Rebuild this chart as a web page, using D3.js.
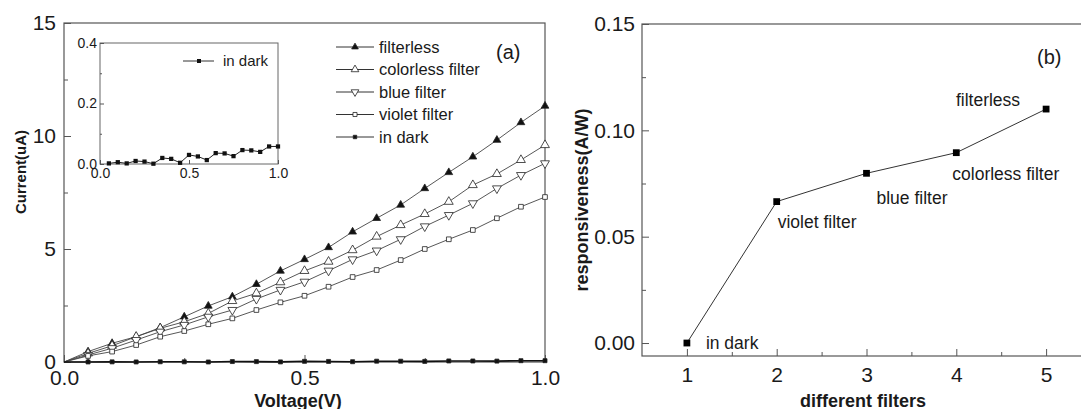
<!DOCTYPE html>
<html lang="en">
<head>
<meta charset="UTF-8">
<title>I-V curves and responsiveness</title>
<style>
  body { margin: 0; background: #fff; }
  svg { font-family: "Liberation Sans", Arial, sans-serif; }
  .axis path, .axis line { stroke: #555; }
  .axis text { fill: #1a1a1a; }
</style>
</head>
<body>
<svg width="1081" height="409" id="svg"></svg>
<script src="https://d3js.org/d3.v7.min.js"></script>
<script>
// ---- data: panel (a) ----
const voltage = [0, 0.05, 0.1, 0.15, 0.2, 0.25, 0.3, 0.35, 0.4, 0.45, 0.5,
                 0.55, 0.6, 0.65, 0.7, 0.75, 0.8, 0.85, 0.9, 0.95, 1.0]
const filterless = [0, 0.46, 0.83, 1.12, 1.52, 2.0, 2.48, 2.89, 3.44, 4.03, 4.54,
                    5.07, 5.76, 6.36, 6.95, 7.68, 8.39, 9.08, 9.82, 10.6, 11.33]
const colorless = [0, 0.38, 0.72, 1.12, 1.49, 1.78, 2.15, 2.7, 3.04, 3.53, 4.03,
                   4.44, 4.95, 5.55, 6.06, 6.55, 7.09, 7.83, 8.32, 8.94, 9.6]
const blueFilter = [0, 0.31, 0.61, 0.97, 1.34, 1.64, 2.0, 2.3, 2.79, 3.19, 3.55,
                    4.04, 4.54, 4.93, 5.43, 6.0, 6.5, 7.02, 7.68, 8.27, 8.79]
const violetFilter = [0, 0.27, 0.46, 0.75, 1.12, 1.37, 1.67, 1.93, 2.3, 2.64, 2.93,
                      3.33, 3.76, 4.07, 4.51, 5.0, 5.43, 5.84, 6.36, 6.87, 7.3]
const inDark = [0, 0.002, 0.006, 0.002, 0.01, 0.008, 0.001, 0.02, 0.017, 0.004, 0.03,
                0.025, 0.013, 0.036, 0.035, 0.026, 0.046, 0.045, 0.04, 0.058, 0.058]
const seriesNames = ["filterless", "colorless filter", "blue filter", "violet filter", "in dark"]
const currentTicks = [0, 5, 10, 15]
const voltageTicks = [0, 0.5, 1.0]
const insetTicks = [0, 0.2, 0.4]

// ---- data: panel (b) ----
const filterIndex = [1, 2, 3, 4, 5]
const filterLabels = ["in dark", "violet filter", "blue filter", "colorless filter", "filterless"]
const responsiveness = [0.0, 0.0665, 0.0798, 0.0895, 0.110]
const respTicks = [0, 0.05, 0.10, 0.15]

const svg = d3.select("svg#svg")

// ================= panel (a) =================
const a = { left: 64, right: 545, top: 23, bottom: 362 }
const xA = d3.scaleLinear().domain([0, 1]).range([a.left, a.right])
const yA = d3.scaleLinear().domain([0, 15]).range([a.bottom, a.top])

const gA = svg.append("g")

gA.append("rect").attr("x", a.left).attr("y", a.top)
  .attr("width", a.right - a.left).attr("height", a.bottom - a.top)
  .attr("fill", "none").attr("stroke", "#555").attr("stroke-width", 1.2)

gA.append("g").attr("class", "axis").attr("transform", `translate(${a.left},0)`)
  .call(d3.axisLeft(yA).tickValues(currentTicks).tickFormat(d3.format("d")).tickSize(-7).tickPadding(8))
  .call(g => g.select(".domain").remove())
  .call(g => g.selectAll("text").attr("font-size", 21))
gA.append("g").attr("class", "axis").attr("transform", `translate(${a.left},0)`)
  .call(d3.axisLeft(yA).tickValues([2.5, 7.5, 12.5]).tickFormat("").tickSize(-4))
  .call(g => g.select(".domain").remove())

gA.append("g").attr("class", "axis").attr("transform", `translate(0,${a.bottom})`)
  .call(d3.axisBottom(xA).tickValues(voltageTicks).tickFormat(d3.format(".1f")).tickSize(-7).tickPadding(8))
  .call(g => g.select(".domain").remove())
  .call(g => g.selectAll("text").attr("font-size", 21))
gA.append("g").attr("class", "axis").attr("transform", `translate(0,${a.bottom})`)
  .call(d3.axisBottom(xA).tickValues([0.25, 0.75]).tickFormat("").tickSize(-4))
  .call(g => g.select(".domain").remove())

gA.append("text").attr("transform", `translate(26,172) rotate(-90)`)
  .attr("text-anchor", "middle").attr("font-size", 15).attr("font-weight", "bold")
  .attr("fill", "#1a1a1a").text("Current(uA)")
gA.append("text").attr("x", 298).attr("y", 407)
  .attr("text-anchor", "middle").attr("font-size", 18).attr("font-weight", "bold")
  .attr("fill", "#1a1a1a").text("Voltage(V)")
gA.append("text").attr("x", 496).attr("y", 59).attr("font-size", 20)
  .attr("fill", "#1a1a1a").text("(a)")

// marker styles
const markerDefs = [
  { type: d3.symbolTriangle, size: 26, fill: "#111", rot: 0 },
  { type: d3.symbolTriangle, size: 34, fill: "#fff", rot: 0 },
  { type: d3.symbolTriangle, size: 34, fill: "#fff", rot: 180 },
  { type: d3.symbolSquare, size: 22, fill: "#fff", rot: 0 },
  { type: d3.symbolSquare, size: 16, fill: "#111", rot: 0 }
]
const seriesValues = [filterless, colorless, blueFilter, violetFilter, inDark]

const lineA = d3.line().x(d => xA(d[0])).y(d => yA(d[1]))
seriesValues.forEach((vals, s) => {
  const pts = voltage.map((v, i) => [v, vals[i]])
  gA.append("path").datum(pts).attr("d", lineA)
    .attr("fill", "none").attr("stroke", s === 4 ? "#111" : "#444")
    .attr("stroke-width", s === 4 ? 1.6 : 0.9)
  const m = markerDefs[s]
  gA.selectAll(null).data(pts.filter(p => p[0] > 0)).join("path")
    .attr("d", d3.symbol().type(m.type).size(m.size))
    .attr("transform", d => `translate(${xA(d[0])},${yA(d[1])}) rotate(${m.rot})`)
    .attr("fill", m.fill).attr("stroke", "#222").attr("stroke-width", 0.8)
})

// legend
const legend = gA.append("g")
seriesNames.forEach((name, s) => {
  const y = 47 + s * 22.5
  legend.append("line").attr("x1", 336).attr("x2", 374).attr("y1", y).attr("y2", y)
    .attr("stroke", "#333").attr("stroke-width", 1)
  const m = markerDefs[s]
  legend.append("path").attr("d", d3.symbol().type(m.type).size(m.size * 0.75))
    .attr("transform", `translate(355,${y}) rotate(${m.rot})`)
    .attr("fill", m.fill).attr("stroke", "#222").attr("stroke-width", 0.8)
  legend.append("text").attr("x", 379).attr("y", y).attr("dy", "0.35em")
    .attr("font-size", 16.5).attr("fill", "#1a1a1a").text(name)
})

// inset
const ins = { left: 100, right: 278, top: 43, bottom: 164 }
const xI = d3.scaleLinear().domain([0, 1]).range([ins.left, ins.right])
const yI = d3.scaleLinear().domain([0, 0.4]).range([ins.bottom, ins.top])
const gI = gA.append("g")
gI.append("rect").attr("x", ins.left).attr("y", ins.top)
  .attr("width", ins.right - ins.left).attr("height", ins.bottom - ins.top)
  .attr("fill", "#fff").attr("stroke", "#666").attr("stroke-width", 1)
gI.append("g").attr("class", "axis").attr("transform", `translate(${ins.left},0)`)
  .call(d3.axisLeft(yI).tickValues(insetTicks).tickFormat(d3.format(".1f")).tickSize(-4).tickPadding(3))
  .call(g => g.select(".domain").remove())
  .call(g => g.selectAll("text").attr("font-size", 14).attr("fill", "#555"))
gI.append("g").attr("class", "axis").attr("transform", `translate(${ins.left},0)`)
  .call(d3.axisLeft(yI).tickValues([0.1, 0.3]).tickFormat("").tickSize(-2))
  .call(g => g.select(".domain").remove())
gI.append("g").attr("class", "axis").attr("transform", `translate(0,${ins.bottom})`)
  .call(d3.axisBottom(xI).tickValues(voltageTicks).tickFormat(d3.format(".1f")).tickSize(-4).tickPadding(4))
  .call(g => g.select(".domain").remove())
  .call(g => g.selectAll("text").attr("font-size", 14).attr("fill", "#555"))

const darkPts = voltage.map((v, i) => [v, inDark[i]]).filter(p => p[0] > 0)
const lineI = d3.line().x(d => xI(d[0])).y(d => yI(d[1]))
gI.append("path").datum(darkPts).attr("d", lineI)
  .attr("fill", "none").attr("stroke", "#222").attr("stroke-width", 1)
gI.selectAll(null).data(darkPts).join("path")
  .attr("d", d3.symbol().type(d3.symbolSquare).size(18))
  .attr("transform", d => `translate(${xI(d[0])},${yI(d[1])})`)
  .attr("fill", "#111")
gI.append("line").attr("x1", 183).attr("x2", 214).attr("y1", 61).attr("y2", 61)
  .attr("stroke", "#333").attr("stroke-width", 1)
gI.append("path").attr("d", d3.symbol().type(d3.symbolSquare).size(16))
  .attr("transform", "translate(199,61)").attr("fill", "#111")
gI.append("text").attr("x", 223).attr("y", 61).attr("dy", "0.35em")
  .attr("font-size", 15).attr("fill", "#1a1a1a").text(seriesNames[4])

// ================= panel (b) =================
const b = { left: 642, right: 1091, top: 24, bottom: 356 }
const xB = d3.scaleLinear().domain([0.5, 5.5]).range([b.left, b.right])
const yB = d3.scaleLinear().domain([-0.0061, 0.15]).range([b.bottom, b.top])
const gB = svg.append("g")

gB.append("rect").attr("x", b.left).attr("y", b.top)
  .attr("width", b.right - b.left).attr("height", b.bottom - b.top)
  .attr("fill", "none").attr("stroke", "#555").attr("stroke-width", 1.2)

gB.append("g").attr("class", "axis").attr("transform", `translate(${b.left},0)`)
  .call(d3.axisLeft(yB).tickValues(respTicks).tickFormat(d3.format(".2f")).tickSize(-7).tickPadding(7))
  .call(g => g.select(".domain").remove())
  .call(g => g.selectAll("text").attr("font-size", 21))
gB.append("g").attr("class", "axis").attr("transform", `translate(${b.left},0)`)
  .call(d3.axisLeft(yB).tickValues([0.025, 0.075, 0.125]).tickFormat("").tickSize(-4))
  .call(g => g.select(".domain").remove())
gB.append("g").attr("class", "axis").attr("transform", `translate(0,${b.bottom})`)
  .call(d3.axisBottom(xB).tickValues(filterIndex).tickFormat(d3.format("d")).tickSize(-7).tickPadding(11))
  .call(g => g.select(".domain").remove())
  .call(g => g.selectAll("text").attr("font-size", 21))
gB.append("g").attr("class", "axis").attr("transform", `translate(0,${b.bottom})`)
  .call(d3.axisBottom(xB).tickValues([1.5, 2.5, 3.5, 4.5]).tickFormat("").tickSize(-4))
  .call(g => g.select(".domain").remove())

gB.append("text").attr("transform", `translate(588,200) rotate(-90)`)
  .attr("text-anchor", "middle").attr("font-size", 18).attr("font-weight", "bold")
  .attr("fill", "#1a1a1a").text("responsiveness(A/W)")
gB.append("text").attr("x", 863).attr("y", 407)
  .attr("text-anchor", "middle").attr("font-size", 18).attr("font-weight", "bold")
  .attr("fill", "#1a1a1a").text("different filters")
gB.append("text").attr("x", 1037).attr("y", 64).attr("font-size", 20)
  .attr("fill", "#1a1a1a").text("(b)")

const ptsB = filterIndex.map((f, i) => [f, responsiveness[i]])
gB.append("path").datum(ptsB)
  .attr("d", d3.line().x(d => xB(d[0])).y(d => yB(d[1])))
  .attr("fill", "none").attr("stroke", "#333").attr("stroke-width", 1)
gB.selectAll(null).data(ptsB).join("path")
  .attr("d", d3.symbol().type(d3.symbolSquare).size(46))
  .attr("transform", d => `translate(${xB(d[0])},${yB(d[1])})`)
  .attr("fill", "#000")

// label placement around each point
const labelOffset = [[19, 6, "start"], [1, 26, "start"], [10, 31, "start"], [-4, 27, "start"], [-26, -3, "end"]]
gB.selectAll(null).data(ptsB).join("text")
  .attr("x", (d, i) => xB(d[0]) + labelOffset[i][0])
  .attr("y", (d, i) => yB(d[1]) + labelOffset[i][1])
  .attr("text-anchor", (d, i) => labelOffset[i][2])
  .attr("font-size", 17.5).attr("fill", "#1a1a1a")
  .text((d, i) => filterLabels[i])
</script>
</body>
</html>
